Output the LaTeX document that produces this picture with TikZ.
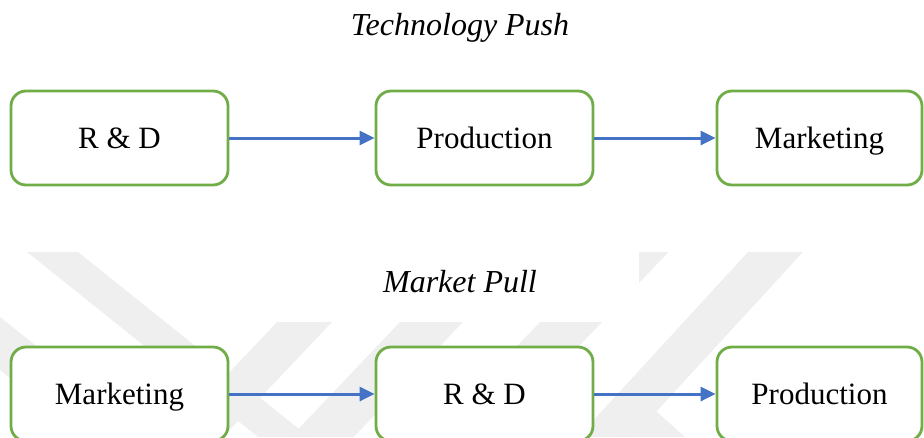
\documentclass[tikz,border=0pt]{standalone}
\usepackage{fontspec}
\setmainfont{Liberation Serif}
\usetikzlibrary{arrows.meta}
\definecolor{boxgreen}{HTML}{70AD47}
\definecolor{flowblue}{HTML}{4472C4}
\definecolor{markgray}{HTML}{EFEFEF}

\begin{document}
\begin{tikzpicture}[x=1pt, y=-1pt,
  stage/.style={draw=boxgreen, line width=2.8pt, rounded corners=15pt, fill=white,
    minimum width=217pt, minimum height=94pt, inner sep=0pt,
    text height=26pt, text depth=6pt, font=\fontsize{31}{36}\selectfont},
  flow/.style={draw=flowblue, line width=3pt, -{Triangle[length=15pt,width=14pt]}},
  heading/.style={anchor=base, inner sep=0pt, font=\fontsize{32}{38}\selectfont\itshape}]

\useasboundingbox (0,0) rectangle (924,437);

% faint striped background mark in the lower half
\begin{scope}
  \clip (0,252) rectangle (924,437);
  \fill[markgray] (27,252) -- (78,252) -- (309,437) -- (258,437) -- cycle;
  \fill[markgray] (0,317) -- (150,437) -- (84,437) -- (0,370) -- cycle;
  \fill[markgray] (343.5,252) -- (398.5,252) -- (223,437) -- (168,437) -- cycle;
  \fill[markgray] (466.5,252) -- (529.5,252) -- (353.75,437) -- (290.75,437) -- cycle;
  \fill[markgray] (606.5,252) -- (668.5,252) -- (492.75,437) -- (430.75,437) -- cycle;
  \fill[markgray] (748,252) -- (803,252) -- (633,437) -- (578,437) -- cycle;
  \fill[markgray] (647,403) -- (685,437) -- (615,437) -- cycle;
\end{scope}
\fill[white] (277,252) rectangle (639,322);

% headings
\node[heading] (tpush) at (460,35) {Technology Push};
\node[heading] (mpull) at (460,292) {Market Pull};

% technology push chain
\node[stage] (t1) at (119.5,138) {R \& D};
\node[stage] (t2) at (484.5,138) {Production};
\node[stage, minimum width=205pt] (t3) at (819.5,138) {Marketing};

% market pull chain
\node[stage] (m1) at (119.5,394) {Marketing};
\node[stage] (m2) at (484.5,394) {R \& D};
\node[stage, minimum width=205pt] (m3) at (819.5,394) {Production};

\draw[flow] (t1) -- (t2);
\draw[flow] (t2) -- (t3);
\draw[flow] (m1) -- (m2);
\draw[flow] (m2) -- (m3);
\end{tikzpicture}
\end{document}
